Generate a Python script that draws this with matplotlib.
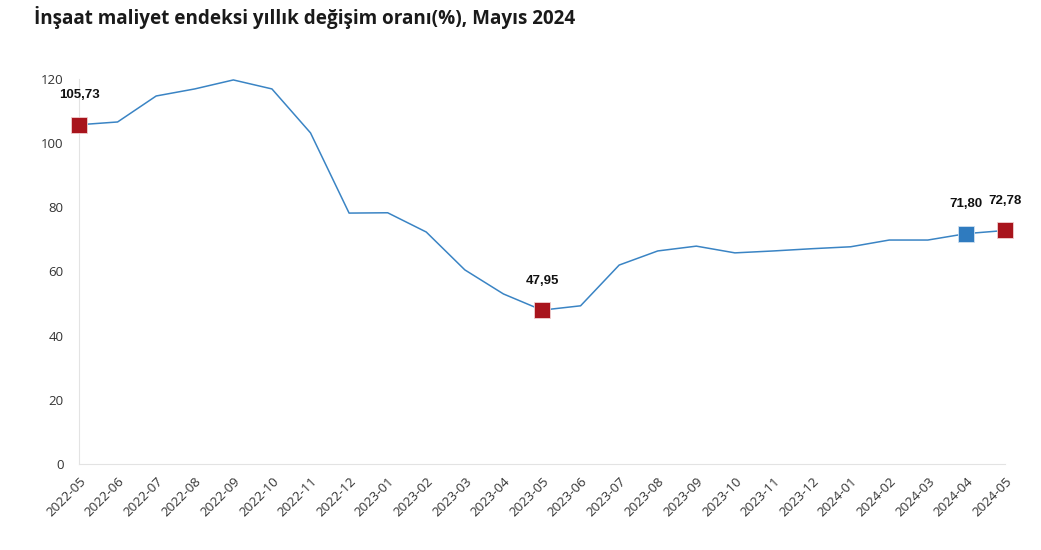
import matplotlib
matplotlib.use("Agg")
from matplotlib import pyplot as plt

aylar = ["2022-05", "2022-06", "2022-07", "2022-08", "2022-09", "2022-10", "2022-11",
         "2022-12", "2023-01", "2023-02", "2023-03", "2023-04", "2023-05", "2023-06",
         "2023-07", "2023-08", "2023-09", "2023-10", "2023-11", "2023-12", "2024-01",
         "2024-02", "2024-03", "2024-04", "2024-05"]
degisim = [105.73, 106.6, 114.7, 116.9, 119.7, 116.9, 103.2, 78.2, 78.3, 72.3,
           60.5, 53.0, 47.95, 49.3, 62.0, 66.4, 67.9, 65.8, 66.4, 67.1, 67.7,
           69.8, 69.8, 71.80, 72.78]
# isaretli noktalar: (indeks, renk)
vurgu = [(0, "#a8141c"), (12, "#a8141c"), (23, "#2f7bbf"), (24, "#a8141c")]

plt.rcParams['font.family'] = ['Open Sans', 'DejaVu Sans']

fig = plt.figure(figsize=(10.41, 5.5), dpi=100)
ax = fig.add_axes([0.0759, 0.1564, 0.8895, 0.70])

x = list(range(len(aylar)))
ax.plot(x, degisim, color="#3a84c4", linewidth=1.1)

for i, renk in vurgu:
    ax.plot(x[i], degisim[i], marker="s", markersize=11.5, color=renk,
            markeredgecolor="#f0d0d0" if renk != "#2f7bbf" else "#cfe0f0",
            markeredgewidth=0.6, clip_on=False, zorder=5)
    etiket = f"{degisim[i]:.2f}".replace(".", ",")
    ax.annotate(etiket, (x[i], degisim[i]), xytext=(0, 17), textcoords="offset points",
                ha="center", va="bottom", fontsize=9.5, fontweight="bold",
                family=["Liberation Sans", "DejaVu Sans"], color="#111111")

ax.set_xlim(0, len(aylar) - 1)
ax.set_ylim(0, 120)
ax.set_yticks([0, 20, 40, 60, 80, 100, 120])
ax.set_xticks(x)
ax.set_xticklabels(aylar, rotation=45, ha="right", rotation_mode="anchor")
ax.tick_params(axis="both", length=0, labelsize=9.5, colors="#333333")
ax.tick_params(axis="x", pad=8)
ax.tick_params(axis="y", pad=11)

for s in ["top", "right"]:
    ax.spines[s].set_visible(False)
ax.spines["left"].set_color("#e3e3e3")
ax.spines["bottom"].set_color("#e3e3e3")

fig.text(0.033, 0.968, "İnşaat maliyet endeksi yıllık değişim oranı(%), Mayıs 2024",
         fontsize=13.6, fontweight="bold", color="#1a1a1a", va="center", ha="left")

fig.savefig("out.png", dpi=100)
